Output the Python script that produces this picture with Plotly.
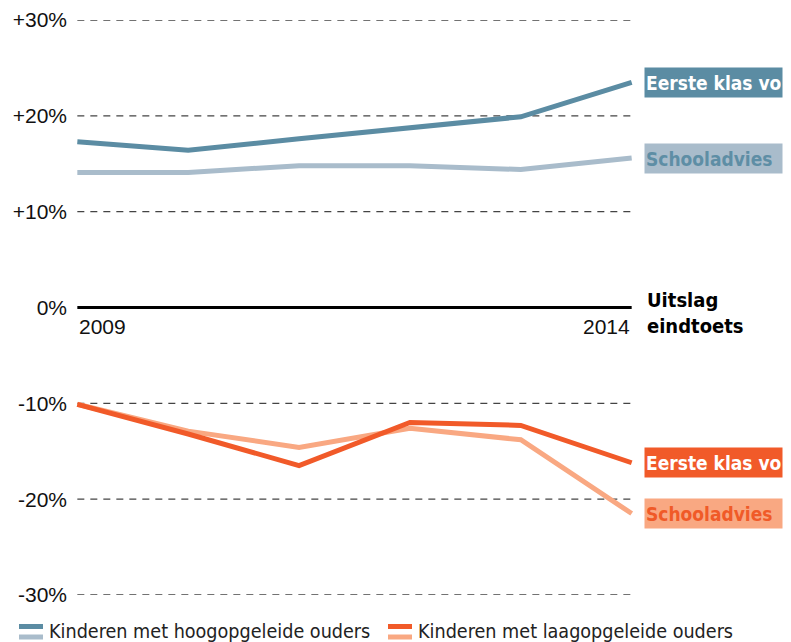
import plotly.graph_objects as go

# Data (percent difference vs. uitslag eindtoets)
years = [2009, 2010, 2011, 2012, 2013, 2014]
hoog_eerste_klas = [17.3, 16.4, 17.6, 18.8, 19.9, 23.5]
hoog_schooladvies = [14.1, 14.1, 14.8, 14.8, 14.4, 15.6]
laag_eerste_klas = [-10.1, -13.2, -16.5, -12.0, -12.3, -16.2]
laag_schooladvies = [-10.1, -12.9, -14.6, -12.6, -13.8, -21.5]

y_ticks = [30, 20, 10, 0, -10, -20, -30]
y_tick_labels = ["+30%", "+20%", "+10%", "0%", "-10%", "-20%", "-30%"]

DARK_BLUE = "#5b8ca3"
LIGHT_BLUE = "#a9bccb"
DARK_ORANGE = "#f15a29"
LIGHT_ORANGE = "#f9a882"

NARROW = "DejaVu Sans Condensed, Roboto, sans-serif"
REGULAR = "Liberation Sans, Arial, sans-serif"

# page has an 8px body margin, so the figure is drawn 8px in from top/left
OFF = 8
W, H = 783, 634
L, R, T, B = 66, 156, 12, 47
x_range = [2008.97, 2014.03]


def px_x(x_page):
    # page pixel -> paper x
    return (x_page - OFF - L) / (W - L - R)


def px_y(y_page):
    # page pixel -> paper y
    return (H - B - (y_page - OFF)) / (H - T - B)


fig = go.Figure()

series = [
    (hoog_schooladvies, LIGHT_BLUE),
    (hoog_eerste_klas, DARK_BLUE),
    (laag_schooladvies, LIGHT_ORANGE),
    (laag_eerste_klas, DARK_ORANGE),
]
for vals, color in series:
    fig.add_trace(go.Scatter(
        x=years, y=vals, mode="lines",
        line=dict(color=color, width=5),
        showlegend=False, hoverinfo="skip",
    ))

# dashed gridlines and solid zero line
for v in y_ticks:
    if v == 0:
        fig.add_shape(type="line", x0=years[0], x1=years[-1], y0=0, y1=0,
                      line=dict(color="black", width=3), layer="below")
    else:
        fig.add_shape(type="line", x0=years[0], x1=years[-1], y0=v, y1=v,
                      line=dict(color="#444444", width=1.3, dash="7px,6px"),
                      layer="below")

# end labels
labels = [
    ("Eerste klas vo", hoog_eerste_klas[-1], DARK_BLUE, "white"),
    ("Schooladvies", hoog_schooladvies[-1], LIGHT_BLUE, "#5e8ea5"),
    ("Eerste klas vo", laag_eerste_klas[-1], DARK_ORANGE, "white"),
    ("Schooladvies", laag_schooladvies[-1], LIGHT_ORANGE, "#f05a28"),
]
for text, yv, bg, fg in labels:
    fig.add_annotation(
        x=years[-1], y=yv, xref="x", yref="y", text=f"<b>{text}</b>",
        showarrow=False, xanchor="left", yanchor="middle", xshift=12,
        bgcolor=bg, width=135, height=27, borderpad=1, align="left",
        font=dict(family=NARROW, size=19, color=fg),
    )

fig.add_annotation(
    x=years[-1], y=0, xref="x", yref="y",
    text="<b>Uitslag<br>eindtoets</b>", showarrow=False,
    xanchor="left", yanchor="middle", xshift=13, yshift=-5, align="left",
    font=dict(family=NARROW, size=20, color="black"),
)

fig.add_annotation(x=years[0], y=0, xref="x", yref="y", text=str(years[0]),
                   showarrow=False, xanchor="left", yanchor="top", yshift=-5,
                   font=dict(family=REGULAR, size=21, color="#111111"))
fig.add_annotation(x=years[-1], y=0, xref="x", yref="y", text=str(years[-1]),
                   showarrow=False, xanchor="right", yanchor="top", yshift=-5,
                   font=dict(family=REGULAR, size=21, color="#111111"))

# custom legend with double-line swatches
legend_items = [
    ("Kinderen met hoogopgeleide ouders", DARK_BLUE, LIGHT_BLUE, 17),
    ("Kinderen met laagopgeleide ouders", DARK_ORANGE, LIGHT_ORANGE, 386),
]
for text, c1, c2, x0 in legend_items:
    for yy, c in [(626.5, c1), (637, c2)]:
        fig.add_shape(type="line", xref="paper", yref="paper",
                      x0=px_x(x0 + 2), x1=px_x(x0 + 26), y0=px_y(yy), y1=px_y(yy),
                      line=dict(color=c, width=5))
    fig.add_annotation(xref="paper", yref="paper", x=px_x(x0 + 30), y=px_y(618),
                       text=text, showarrow=False, xanchor="left", yanchor="top",
                       font=dict(family=NARROW, size=19.6, color="#222222"))

fig.update_layout(
    width=W, height=H,
    margin=dict(l=L, r=R, t=T, b=B, autoexpand=False),
    plot_bgcolor="white", paper_bgcolor="white",
    xaxis=dict(range=x_range, showgrid=False, zeroline=False, automargin=False,
               showticklabels=False, showline=False),
    yaxis=dict(range=[-30, 30], showgrid=False, zeroline=False, automargin=False,
               tickvals=y_ticks, ticktext=y_tick_labels, ticks="",
               ticklabelstandoff=6,
               tickfont=dict(family=REGULAR, size=21, color="#111111")),
)

fig.write_html("out.html")
